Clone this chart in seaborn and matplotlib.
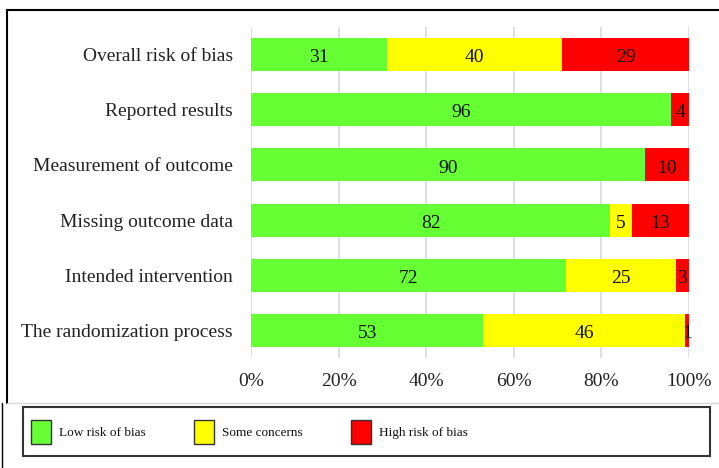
import matplotlib
matplotlib.use("Agg")
import numpy as np
import pandas as pd
import matplotlib.pyplot as plt
import seaborn as sns
from matplotlib.patches import Patch, Rectangle
from matplotlib.lines import Line2D

# risk-of-bias summary (percent of studies)
domains = ["Overall risk of bias", "Reported results", "Measurement of outcome",
           "Missing outcome data", "Intended intervention", "The randomization process"]
low = [31, 96, 90, 82, 72, 53]
some = [40, 0, 0, 5, 25, 46]
high = [29, 4, 10, 13, 3, 1]

series_names = ["Low risk of bias", "Some concerns", "High risk of bias"]
colors = ["#66FF33", "#FFFF00", "#FF0000"]
xticks = [0, 20, 40, 60, 80, 100]
xtick_labels = ["0%", "20%", "40%", "60%", "80%", "100%"]

sns.set_theme(style="white")
plt.rcParams['font.family'] = ['Liberation Serif', 'DejaVu Serif']
plt.rcParams['text.color'] = '#111111'

df = pd.DataFrame({"domain": domains, "low": low, "some": some, "high": high})
df["c1"] = df["low"]
df["c2"] = df["low"] + df["some"]
df["c3"] = df["c2"] + df["high"]

W, H = 719, 468
fig = plt.figure(figsize=(W / 100, H / 100), dpi=100)
ax = fig.add_axes([251 / W, 1 - 358 / H, 438 / W, 331 / H])

# stacked bars: draw cumulative totals back to front
for col, c in zip(["c3", "c2", "c1"], colors[::-1]):
    sns.barplot(data=df, x=col, y="domain", color=c, orient="h", width=0.6,
                saturation=1, linewidth=0, ax=ax)

# segment labels
for i, row in df.iterrows():
    start = 0
    for v in [row["low"], row["some"], row["high"]]:
        if v > 0:
            ax.text(start + v / 2, i + 0.02, f"{v:d}", ha="center", va="center_baseline",
                    fontsize=14, color="#111111")
        start += v

ax.set_xlim(0, 100)
ax.set_ylim(5.5, -0.5)
ax.set_xticks(xticks)
ax.set_xticklabels(xtick_labels, fontsize=14)
ax.tick_params(axis="y", labelsize=14, pad=13, length=0, labelcolor="#222222")
ax.tick_params(axis="x", pad=11, length=0, labelcolor="#222222")
ax.set_xlabel("")
ax.set_ylabel("")
ax.xaxis.grid(True, color="#d9d9d9", linewidth=1.2)
ax.set_axisbelow(True)
for s in ax.spines.values():
    s.set_visible(False)

# chart frame
fig.add_artist(Line2D([7 / W, 1], [1 - 10 / H, 1 - 10 / H], color="black", lw=1.5))
fig.add_artist(Line2D([7 / W, 7 / W], [1 - 10 / H, 1 - 403 / H], color="black", lw=1.5))
fig.add_artist(Line2D([7 / W, 1], [1 - 403 / H, 1 - 403 / H], color="#d9d9d9", lw=1))
fig.add_artist(Line2D([1.5 / W, 1.5 / W], [1 - 403 / H, 0], color="black", lw=1))

# legend box
fig.add_artist(Rectangle((23 / W, 1 - 456 / H), 687 / W, 49 / H, transform=fig.transFigure,
                         fill=False, edgecolor="#333333", lw=1.5))
handles = [Patch(facecolor=c, edgecolor="#333333", linewidth=1) for c in colors]
fig.legend(handles, series_names, loc="center left", bbox_to_anchor=(31 / W, 1 - 432 / H),
           ncol=3, frameon=False, fontsize=9.5, handlelength=1.5, handleheight=2.5,
           handletextpad=0.6, columnspacing=3.7, borderpad=0, borderaxespad=0)

fig.savefig("out.png", dpi=100)
